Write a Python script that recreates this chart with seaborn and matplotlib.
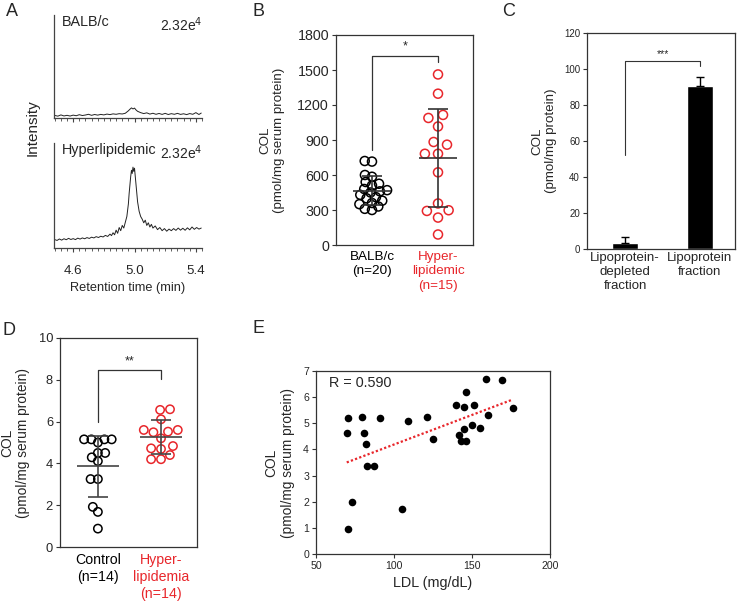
import numpy as np
import pandas as pd
import matplotlib
matplotlib.use('Agg')
import matplotlib.pyplot as plt
import seaborn as sns
from matplotlib.ticker import MultipleLocator

sns.set_style('ticks')
plt.rcParams['font.family'] = ['Liberation Sans', 'DejaVu Sans']

RED = '#e8262b'
DARK = '#333333'

# ---------------- Data ----------------
# Panel A chromatograms (intensity as % of full scale 2.32e4)
t_hyper = [4.48, 4.495, 4.51, 4.525, 4.54, 4.555, 4.57, 4.585, 4.60, 4.615,
           4.63, 4.645, 4.66, 4.675, 4.69, 4.705, 4.72, 4.735, 4.75, 4.765,
           4.78, 4.795, 4.81, 4.825, 4.84, 4.85, 4.86, 4.87, 4.88, 4.89,
           4.90, 4.91, 4.92, 4.93, 4.94, 4.95, 4.96, 4.965, 4.97, 4.975,
           4.98, 4.985, 4.99, 4.995, 5.00, 5.005, 5.01, 5.015, 5.02, 5.03,
           5.04, 5.05, 5.06, 5.07, 5.08, 5.09, 5.10, 5.11, 5.12, 5.135,
           5.15, 5.165, 5.18, 5.195, 5.21, 5.225, 5.24, 5.255, 5.27, 5.285,
           5.30, 5.315, 5.33, 5.345, 5.36, 5.375, 5.39, 5.405, 5.42, 5.435]
i_hyper = [8.0, 7.2, 8.6, 7.5, 8.8, 7.9, 9.2, 8.1, 8.9, 8.0,
           9.4, 8.5, 9.6, 8.8, 9.9, 9.1, 10.3, 9.6, 10.8, 10.0,
           11.2, 10.5, 12.0, 11.0, 13.2, 11.8, 14.5, 12.6, 17.0, 14.0,
           19.5, 16.5, 21.5, 19.0, 24.5, 30.0, 42.0, 52.0, 60.0, 68.0,
           74.0, 71.0, 77.0, 73.0, 76.0, 68.0, 60.0, 52.0, 44.0, 35.0,
           30.0, 27.5, 24.0, 26.5, 21.5, 24.0, 20.0, 22.5, 19.0, 21.0,
           17.5, 19.5, 16.5, 18.5, 16.0, 18.0, 16.5, 18.5, 16.8, 19.0,
           17.0, 18.8, 16.9, 19.2, 17.3, 20.0, 17.8, 19.5, 18.0, 19.0]
t_balb = [4.48, 4.50, 4.52, 4.54, 4.56, 4.58, 4.60, 4.62, 4.64, 4.66,
          4.68, 4.70, 4.72, 4.74, 4.76, 4.78, 4.80, 4.82, 4.84, 4.86,
          4.88, 4.90, 4.92, 4.94, 4.96, 4.97, 4.98, 4.99, 5.00, 5.01,
          5.02, 5.04, 5.06, 5.08, 5.10, 5.12, 5.14, 5.16, 5.18, 5.20,
          5.22, 5.24, 5.26, 5.28, 5.30, 5.32, 5.34, 5.36, 5.38, 5.40,
          5.42, 5.435]
i_balb = [2.5, 1.8, 3.0, 2.0, 2.6, 1.9, 2.8, 2.2, 3.2, 2.4,
          2.9, 3.6, 2.6, 3.4, 2.8, 3.5, 3.0, 3.8, 3.3, 4.0,
          3.6, 4.2, 3.9, 4.6, 7.0, 8.5, 9.8, 8.8, 9.6, 7.8,
          6.5, 5.2, 4.3, 5.0, 3.8, 4.6, 3.6, 4.4, 3.5, 4.5,
          3.4, 4.2, 3.6, 4.5, 3.5, 4.1, 3.3, 4.3, 3.6, 5.2,
          3.4, 4.8]

# Panel B
b_groups = ['BALB/c', 'Hyperlipidemic']
b_balb = [720, 715, 600, 585, 540, 525, 510, 480, 470, 460,
          450, 430, 410, 400, 380, 360, 350, 330, 310, 300]
b_hyper = [1462, 1297, 1089, 1115, 1016, 860, 883, 782, 782, 623,
           356, 292, 298, 235, 90]
b_ticklabels = ['BALB/c\n(n=20)', 'Hyper-\nlipidemic\n(n=15)']

# Panel C
c_labels = ['Lipoprotein-\ndepleted\nfraction', 'Lipoprotein\nfraction']
c_means = [3.4, 90.8]
c_err = [3.1, 4.8]

# Panel D
d_groups = ['Control', 'Hyperlipidemia']
d_control = [5.15, 5.15, 5.15, 5.15, 5.0, 4.5, 4.5, 4.29, 4.11,
             3.25, 3.25, 1.92, 1.68, 0.88]
d_hyper = [6.56, 6.59, 6.11, 5.6, 5.52, 5.6, 5.49, 5.2, 4.72, 4.83,
           4.69, 4.4, 4.2, 4.2]
d_ticklabels = ['Control\n(n=14)', 'Hyper-\nlipidemia\n(n=14)']

# Panel E
e_ldl = [69.7, 70.7, 70.7, 72.9, 79.7, 81.0, 81.8, 82.7, 87.0, 91.0,
         104.9, 109.0, 120.9, 125.0, 140.0, 141.9, 143.2, 145.1, 146.2, 145.1,
         146.2, 150.2, 151.1, 154.9, 159.2, 160.0, 169.2, 176.1]
e_col = [4.61, 5.22, 0.97, 1.99, 5.23, 4.61, 4.20, 3.36, 3.35, 5.19,
         1.73, 5.10, 5.23, 4.38, 5.70, 4.54, 4.31, 5.61, 6.19, 4.77,
         4.31, 4.93, 5.69, 4.81, 6.69, 5.33, 6.64, 5.59]

# ---------------- Figure ----------------
W, H = 745, 601
fig = plt.figure(figsize=(W / 100, H / 100), dpi=100)


def add_ax(x0, y0, x1, y1):
    return fig.add_axes([x0 / W, 1 - y1 / H, (x1 - x0) / W, (y1 - y0) / H])


def style_box(ax, tick_size):
    for sp in ax.spines.values():
        sp.set_visible(True)
        sp.set_color(DARK)
        sp.set_linewidth(0.9)
    ax.tick_params(axis='both', length=3, width=0.8, color=DARK,
                   labelsize=tick_size, pad=2)


def hollow_swarm(ax, groups, values_list, colors, layout_sizes, draw_size,
                 xlim, ylim):
    made = []
    for g, vals, c, ls in zip(groups, values_list, colors, layout_sizes):
        n0 = len(ax.collections)
        sns.swarmplot(x=[g] * len(vals), y=vals, order=groups, color=c,
                      size=ls, ax=ax)
        for coll in ax.collections[n0:]:
            if len(coll.get_offsets()) > 0:
                made.append((coll, c))
    ax.set_xlim(*xlim)
    ax.set_ylim(*ylim)
    fig.canvas.draw()
    for coll, c in made:
        off = np.asarray(coll.get_offsets())
        coll.remove()
        ax.scatter(off[:, 0], off[:, 1], s=draw_size ** 2, facecolors='none',
                   edgecolors=c, linewidths=1.1, zorder=3)


# Panel A
axA1 = add_ax(54, 15, 202, 118)
axA2 = add_ax(54, 143, 202, 248)
for ax, t, v, name in [(axA1, t_balb, i_balb, 'BALB/c'),
                       (axA2, t_hyper, i_hyper, 'Hyperlipidemic')]:
    sns.lineplot(x=t, y=v, ax=ax, color='#222222', lw=0.7, estimator=None)
    ax.set_xlim(4.475, 5.44)
    ax.set_ylim(0, 100)
    for s in ['top', 'right']:
        ax.spines[s].set_visible(False)
    for s in ['left', 'bottom']:
        ax.spines[s].set_color('#444444')
        ax.spines[s].set_linewidth(0.9)
    ax.set_yticks([])
    ax.xaxis.set_major_locator(MultipleLocator(0.4))
    ax.xaxis.set_minor_locator(MultipleLocator(0.04))
    ax.tick_params(axis='x', which='major', length=3, width=0.8, labelsize=9.6,
                   color='#444444', pad=9)
    ax.tick_params(axis='x', which='minor', length=2, width=0.6, color='#444444')
    ax.set_xlabel('')
    ax.set_ylabel('')
    ax.text(0.05, 1.0, name, transform=ax.transAxes, fontsize=10.4,
            ha='left', va='top')
    ax.text(1.0, 1.0, '2.32e$^{4}$', transform=ax.transAxes, fontsize=10,
            ha='right', va='top')
axA1.set_xticks([4.6, 5.0, 5.4])
axA1.set_xticklabels([])
axA2.set_xticks([4.6, 5.0, 5.4])
axA2.set_xticklabels(['4.6', '5.0', '5.4'])
axA2.set_xlabel('Retention time (min)', fontsize=9.2, labelpad=4)
fig.text(33 / W, 1 - 128 / H, 'Intensity', rotation=90, fontsize=11,
         ha='center', va='center')

# Panel B
axB = add_ax(336, 35, 473, 245)
hollow_swarm(axB, b_groups, [b_balb, b_hyper], ['black', RED], [5.0, 9.0], 6.5,
             (-0.545, 1.53), (0, 1800))
for i, vals in enumerate([b_balb, b_hyper]):
    m, s = np.mean(vals), np.std(vals, ddof=1)
    axB.hlines(m, i - 0.29, i + 0.29, color=DARK, lw=1.2, zorder=5)
    axB.vlines(i, m - s, m + s, color=DARK, lw=1.2, zorder=5)
    axB.hlines([m - s, m + s], i - 0.15, i + 0.15, color=DARK, lw=1.2, zorder=5)
axB.plot([0, 0, 1, 1], [814, 1620, 1620, 1570], color=DARK, lw=0.9)
axB.text(0.5, 1650, '*', ha='center', va='bottom', fontsize=9)
axB.set_ylim(0, 1800)
axB.set_yticks(range(0, 1801, 300))
axB.set_xlim(-0.545, 1.53)
style_box(axB, 10.3)
axB.tick_params(axis='x', length=0, pad=4)
axB.set_xticks([0, 1])
axB.set_xticklabels(b_ticklabels, fontsize=9.7, linespacing=1.3)
for lbl, c in zip(axB.get_xticklabels(), ['black', RED]):
    lbl.set_color(c)
axB.set_xlabel('')
axB.set_ylabel('COL\n(pmol/mg serum protein)', fontsize=9.6, labelpad=9)

# Panel C
axC = add_ax(587, 33, 735, 249)
sns.barplot(x=c_labels, y=c_means, color='black', saturation=1, width=0.35,
            ax=axC, errorbar=None)
axC.errorbar([0, 1], c_means, yerr=[[0, 0], c_err], fmt='none', ecolor='black',
             elinewidth=1, capsize=3, capthick=1)
axC.plot([0, 0, 1, 1], [52, 104.4, 104.4, 101.7], color=DARK, lw=0.8)
axC.text(0.5, 105.5, '***', ha='center', va='bottom', fontsize=7.5)
axC.set_ylim(0, 120)
axC.set_yticks(range(0, 121, 20))
axC.set_xlim(-0.51, 1.47)
style_box(axC, 7)
axC.tick_params(axis='x', length=0, pad=2)
axC.set_xticks([0, 1])
axC.set_xticklabels(c_labels, fontsize=9.5, linespacing=1.25)
axC.set_ylabel('COL\n(pmol/mg protein)', fontsize=9.6, labelpad=5)

# Panel D
axD = add_ax(60, 338, 197, 547)
hollow_swarm(axD, d_groups, [d_control, d_hyper], ['black', RED], [5.0, 6.8], 6,
             (-0.6, 1.57), (0, 10))
for i, vals in enumerate([d_control, d_hyper]):
    m, s = np.mean(vals), np.std(vals, ddof=1)
    axD.hlines(m, i - 0.33, i + 0.33, color='#444444', lw=1.2, zorder=5)
    axD.vlines(i, m - s, m + s, color='#444444', lw=1.2, zorder=5)
    axD.hlines([m - s, m + s], i - 0.16, i + 0.16, color='#444444', lw=1.2, zorder=5)
axD.plot([0, 0, 1, 1], [6.0, 8.47, 8.47, 8.04], color=DARK, lw=0.9)
axD.text(0.5, 8.6, '**', ha='center', va='bottom', fontsize=9)
axD.set_ylim(0, 10)
axD.set_yticks(range(0, 11, 2))
axD.set_xlim(-0.6, 1.57)
style_box(axD, 9.3)
axD.tick_params(axis='x', length=0, pad=4)
axD.set_xticks([0, 1])
axD.set_xticklabels(d_ticklabels, fontsize=10.2, linespacing=1.3)
for lbl, c in zip(axD.get_xticklabels(), ['black', RED]):
    lbl.set_color(c)
axD.set_xlabel('')
axD.set_ylabel('COL\n(pmol/mg serum protein)', fontsize=9.9, labelpad=6)

# Panel E
axE = add_ax(316, 371, 550, 554)
sns.regplot(x=e_ldl, y=e_col, ax=axE, ci=None,
            scatter_kws=dict(s=30, color='black', linewidths=0, alpha=1),
            line_kws=dict(color=RED, ls=(0, (1, 1)), lw=1.6))
axE.set_xlim(50, 200)
axE.set_ylim(0, 7)
axE.set_xticks([50, 100, 150, 200])
axE.set_yticks(range(0, 8))
style_box(axE, 7.6)
axE.set_xlabel('LDL (mg/dL)', fontsize=10.4, labelpad=4)
axE.set_ylabel('COL\n(pmol/mg serum protein)', fontsize=9.9, labelpad=6)
axE.text(0.055, 0.975, 'R = 0.590', transform=axE.transAxes, fontsize=10.4,
         ha='left', va='top')

# Panel letters
for x, y, letter in [(6, 3, 'A'), (252, 3, 'B'), (502, 3, 'C'),
                     (2, 322, 'D'), (252, 320, 'E')]:
    fig.text(x / W, 1 - y / H, letter, fontsize=13, ha='left', va='top')

fig.savefig('out.png', dpi=100)
